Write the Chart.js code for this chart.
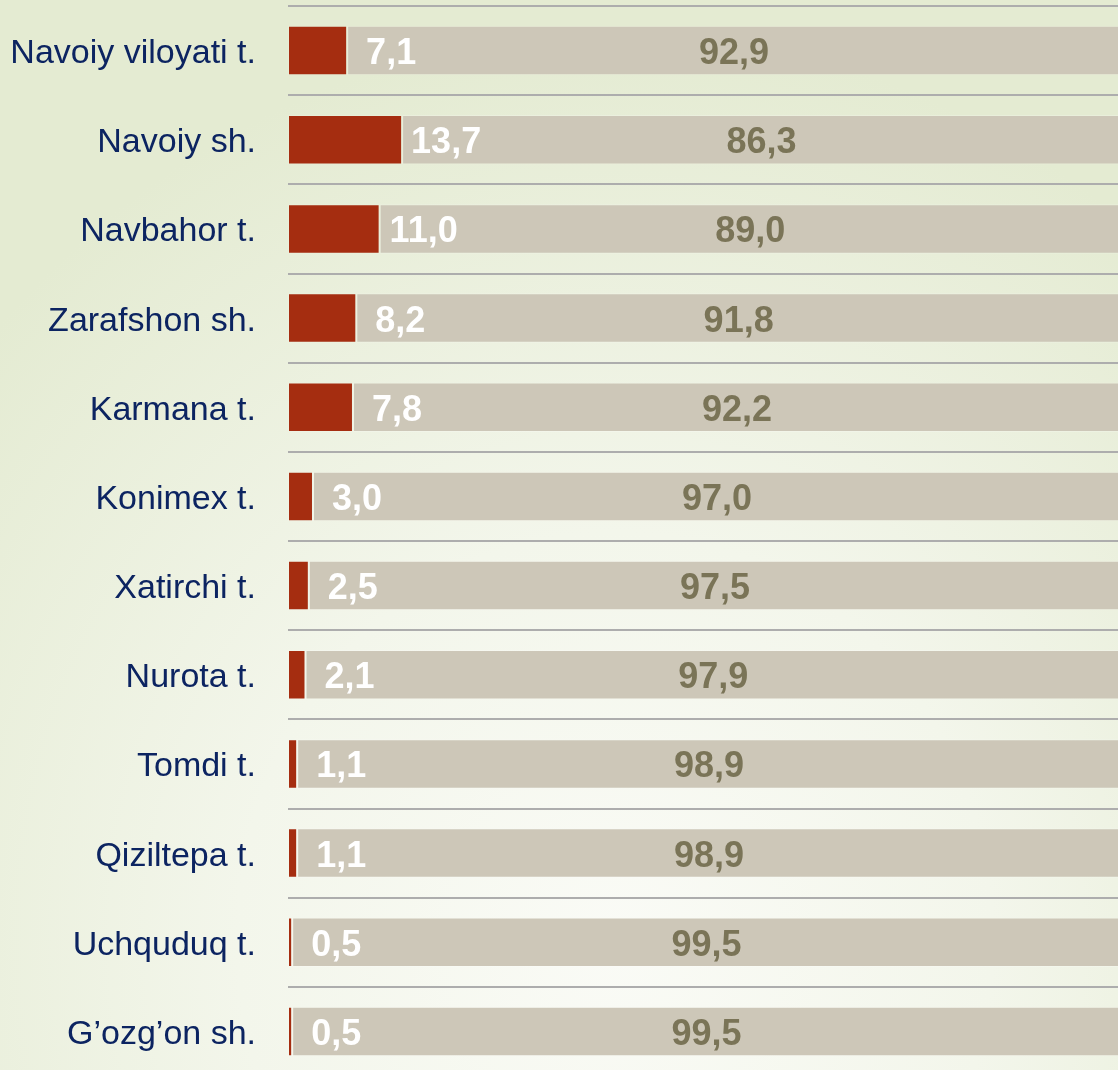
<!DOCTYPE html>
<html>
<head>
<meta charset="utf-8">
<script src="https://cdn.jsdelivr.net/npm/chart.js@4/dist/chart.umd.min.js"></script>
<style>
  html, body { margin: 0; padding: 0; width: 1118px; height: 1070px; overflow: hidden; }
  body { background: radial-gradient(ellipse 75% 85% at 55% 88%, #FAFBF6 0%, #F3F6EB 45%, #E4EBD2 100%); }
  #wrap { position: absolute; left: 0; top: 0; width: 1118px; height: 1070px; overflow: hidden; }
  canvas { position: absolute; left: 0; top: 0; }
</style>
</head>
<body>
<div id="wrap"><canvas id="c" width="1121" height="1076"></canvas></div>
<script>
const categories = ["Navoiy viloyati t.", "Navoiy sh.", "Navbahor t.", "Zarafshon sh.", "Karmana t.", "Konimex t.", "Xatirchi t.", "Nurota t.", "Tomdi t.", "Qiziltepa t.", "Uchquduq t.", "G\u2019ozg\u2019on sh."];
const redShare = [7.1, 13.7, 11.0, 8.2, 7.8, 3.0, 2.5, 2.1, 1.1, 1.1, 0.5, 0.5];
const greyShare = [92.9, 86.3, 89.0, 91.8, 92.2, 97.0, 97.5, 97.9, 98.9, 98.9, 99.5, 99.5];

const fmt = v => v.toFixed(1).replace('.', ',');

const valueLabels = {
  id: 'valueLabels',
  afterDatasetsDraw(chart) {
    const ctx = chart.ctx;
    const m0 = chart.getDatasetMeta(0);
    const m1 = chart.getDatasetMeta(1);
    ctx.save();
    ctx.font = 'bold 36px "Liberation Sans", Arial, sans-serif';
    ctx.textAlign = 'center';
    ctx.textBaseline = 'alphabetic';
    m0.data.forEach((bar, i) => {
      ctx.fillStyle = '#FFFFFF';
      ctx.fillText(fmt(redShare[i]), bar.x + 44, bar.y + 13.5);
    });
    m1.data.forEach((bar, i) => {
      ctx.fillStyle = '#7A7457';
      ctx.fillText(fmt(greyShare[i]), (bar.x + bar.base) / 2, bar.y + 13.5);
    });
    ctx.restore();
  }
};

new Chart(document.getElementById('c'), {
  type: 'bar',
  data: {
    labels: categories,
    datasets: [
      { data: redShare, backgroundColor: '#A52D10', borderColor: 'rgba(255,255,255,0.12)', borderWidth: 1, borderSkipped: false },
      { data: greyShare, backgroundColor: '#CDC7B8', borderColor: 'rgba(255,255,255,0.2)', borderWidth: 1, borderSkipped: false }
    ]
  },
  options: {
    indexAxis: 'y',
    responsive: false,
    animation: false,
    layout: { padding: { top: 6, right: 0, bottom: 0, left: 0 } },
    datasets: { bar: { categoryPercentage: 1, barPercentage: 0.555 } },
    plugins: { legend: { display: false }, tooltip: { enabled: false } },
    scales: {
      x: { stacked: true, min: 0, max: 100, display: false },
      y: {
        stacked: true,
        border: { display: false },
        grid: { display: true, offset: true, color: '#ADADAD', lineWidth: 2, drawTicks: false },
        ticks: {
          color: '#0C2461',
          padding: 32,
          font: { family: '"Liberation Sans", Arial, sans-serif', size: 34, lineHeight: 0.18 },
          callback: (v, i) => ['', categories[i]]
        },
        afterFit(scale) {
          scale.width = 288;
          scale.paddingTop = 0;
          scale.paddingBottom = 0;
        }
      }
    }
  },
  plugins: [valueLabels]
});
</script>
</body>
</html>
